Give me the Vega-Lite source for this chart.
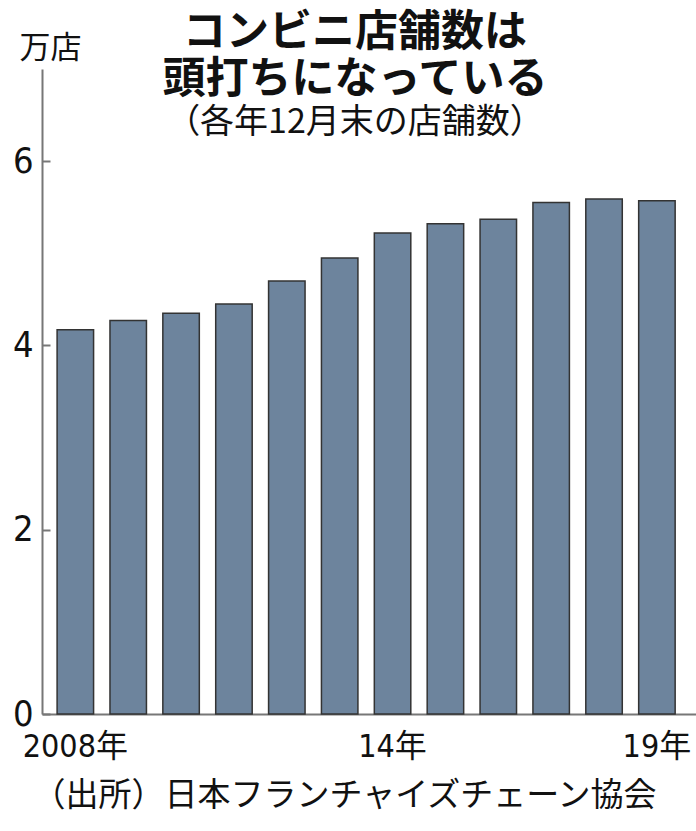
{
  "$schema": "https://vega.github.io/schema/vega-lite/v6.json",
  "autosize": {"type": "none"},
  "padding": {"left": 42, "top": 69, "right": 0, "bottom": 117},
  "width": 654,
  "height": 645,
  "background": "white",
  "title": {
    "text": ["コンビニ店舗数は", "頭打ちになっている"],
    "subtitle": "（各年12月末の店舗数）",
    "anchor": "middle",
    "dx": -14,
    "offset": -108,
    "font": "Noto Sans CJK JP",
    "fontSize": 43,
    "fontWeight": "bold",
    "lineHeight": 47,
    "color": "#111",
    "subtitleFont": "Noto Sans CJK JP",
    "subtitleFontSize": 34,
    "subtitleColor": "#111",
    "subtitlePadding": 4
  },
  "data": {
    "values": [
      {"year": 2008, "stores": 4.17},
      {"year": 2009, "stores": 4.27},
      {"year": 2010, "stores": 4.35},
      {"year": 2011, "stores": 4.45},
      {"year": 2012, "stores": 4.70},
      {"year": 2013, "stores": 4.95},
      {"year": 2014, "stores": 5.22},
      {"year": 2015, "stores": 5.32},
      {"year": 2016, "stores": 5.37},
      {"year": 2017, "stores": 5.55},
      {"year": 2018, "stores": 5.59},
      {"year": 2019, "stores": 5.57}
    ]
  },
  "mark": {"type": "bar", "fill": "#6d849d", "stroke": "#333333", "strokeWidth": 1.5},
  "encoding": {
    "x": {
      "field": "year",
      "type": "ordinal",
      "scale": {"paddingInner": 0.31, "paddingOuter": 0.34, "align": 0.42},
      "axis": {
        "labelExpr": "datum.value == 2008 ? '2008年' : datum.value == 2014 ? '14年' : datum.value == 2019 ? '19年' : ''",
        "labelAngle": 0,
        "labelFont": "Liberation Sans Narrow, DejaVu Sans Condensed, Noto Sans CJK JP",
        "labelFontSize": 32,
        "labelColor": "#111",
        "labelBaseline": "alphabetic",
        "labelPadding": 42,
        "ticks": false,
        "tickSize": 0,
        "domainColor": "#777777",
        "domainWidth": 2,
        "grid": false,
        "title": "（出所）日本フランチャイズチェーン協会",
        "titleFont": "Noto Sans CJK JP",
        "titleFontSize": 33,
        "titleFontWeight": "normal",
        "titleColor": "#111",
        "titleAlign": "left",
        "titleBaseline": "middle",
        "titleX": -10,
        "titleY": 81
      }
    },
    "y": {
      "field": "stores",
      "type": "quantitative",
      "scale": {"domain": [0, 7], "nice": false},
      "axis": {
        "values": [0, 2, 4, 6],
        "labelFont": "Liberation Sans Narrow, DejaVu Sans Condensed, Noto Sans CJK JP",
        "labelFontSize": 36,
        "labelColor": "#111",
        "labelPadding": 17,
        "tickSize": -8,
        "tickColor": "#777777",
        "tickWidth": 2,
        "domainColor": "#777777",
        "domainWidth": 2,
        "grid": false,
        "title": "万店",
        "titleAngle": 0,
        "titleFont": "Noto Sans CJK JP",
        "titleFontSize": 31,
        "titleFontWeight": "normal",
        "titleColor": "#111",
        "titleAlign": "center",
        "titleBaseline": "middle",
        "titleX": 8,
        "titleY": -21
      }
    }
  },
  "config": {"view": {"stroke": null}}
}
